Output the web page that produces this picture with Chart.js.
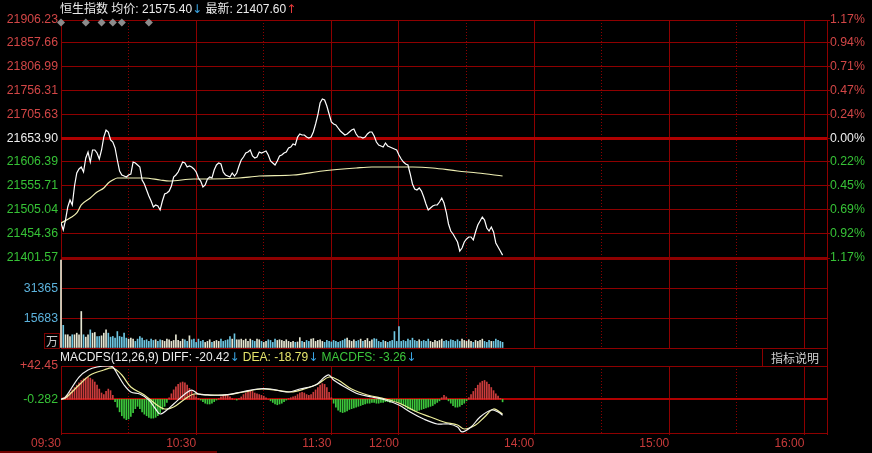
<!DOCTYPE html>
<html><head><meta charset="utf-8">
<script src="https://cdn.jsdelivr.net/npm/chart.js@4.4.0/dist/chart.umd.min.js"></script>
<style>
html,body{margin:0;padding:0;background:#000;width:872px;height:453px;overflow:hidden;}
body{position:relative;font-family:"Liberation Sans","Noto Sans CJK SC",sans-serif;}
canvas{position:absolute;left:0;}
.txt{position:absolute;font-size:12px;white-space:nowrap;line-height:14px;z-index:5;}
.ar{font-family:"DejaVu Sans";font-size:12px;}
</style></head><body>
<canvas id="cPrice" width="872" height="268" style="top:0px"></canvas>
<canvas id="cVol" width="872" height="100" style="top:250px"></canvas>
<canvas id="cMacd" width="872" height="103" style="top:350px"></canvas>
<div id="hdr" class="txt" style="left:60px;top:2px;color:#ececec"></div>
<div id="macdHdr" class="txt" style="left:60px;top:350px"></div>
<div class="txt" style="left:44px;top:333px;width:14px;height:14px;border:1px solid #7a0000;color:#c8c8c8;text-align:center;font-family:'Noto Sans CJK SC';font-size:12px;line-height:14px;">万</div>
<div class="txt" style="left:762px;top:348px;width:64px;height:17px;border:1px solid #8c0000;color:#d0d0d0;text-align:center;font-family:'Noto Sans CJK SC';font-size:12px;line-height:17px;">指标说明</div>
<div style="position:absolute;left:0;top:451px;width:217px;height:2px;background:#700000"></div>
<script>
// ---------- DATA ----------
const indexName = '恒生指数';
const prevClose = 21653.90;
const totalMinutes = 340;               // 09:30-12:00 + 13:00-16:10
const timeTickMinutes = [0, 60, 120, 150, 210, 270, 330];
const timeTickLabels = ['09:30', '10:30', '11:30', '12:00', '14:00', '15:00', '16:00'];
const dottedMinutes = [30, 90, 180, 240, 300];

const priceTicks = [21906.23, 21857.66, 21806.99, 21756.31, 21705.63, 21653.90, 21606.39, 21555.71, 21505.04, 21454.36, 21401.57];
const pctLabels = ['1.17%', '0.94%', '0.71%', '0.47%', '0.24%', '0.00%', '0.22%', '0.45%', '0.69%', '0.92%', '1.17%'];

const priceValues = [
21475.8,21460.9,21482.1,21509.7,21524.6,21514.0,21554.2,21581.8,21590.3,21594.5,
21583.9,21613.6,21626.3,21605.1,21630.6,21630.6,21624.2,21611.5,21630.6,21658.1,
21673.0,21668.7,21651.8,21647.5,21634.8,21609.4,21586.0,21577.6,21575.4,21573.3,
21577.6,21579.7,21605.1,21603.0,21598.8,21594.5,21567.0,21558.5,21545.8,21533.0,
21522.4,21509.7,21514.0,21511.8,21503.4,21522.4,21537.3,21539.4,21543.6,21554.2,
21573.3,21577.6,21583.9,21594.5,21605.1,21603.0,21594.5,21596.6,21594.5,21590.3,
21583.9,21571.2,21564.8,21552.1,21556.4,21569.1,21573.3,21571.2,21588.2,21598.8,
21603.0,21600.9,21583.9,21577.6,21575.4,21573.3,21581.8,21575.4,21581.8,21596.6,
21609.4,21615.7,21624.2,21626.3,21630.6,21617.9,21613.6,21615.7,21626.3,21624.2,
21626.3,21628.5,21620.0,21607.3,21603.0,21598.8,21607.3,21617.9,21620.0,21624.2,
21626.3,21634.8,21636.9,21643.3,21641.2,21658.1,21664.5,21662.4,21662.4,21658.1,
21656.0,21658.1,21668.7,21685.7,21704.8,21730.2,21738.7,21736.6,21723.9,21706.9,
21689.9,21685.7,21683.6,21677.2,21670.9,21666.6,21662.4,21664.5,21668.7,21673.0,
21675.1,21664.5,21658.1,21658.1,21656.0,21658.1,21664.5,21668.7,21668.7,21660.3,
21647.5,21641.2,21639.1,21636.9,21645.4,21639.1,21636.9,21634.8,21632.7,21630.6,
21620.0,21611.5,21605.1,21600.9,21598.8,21579.7,21558.5,21547.9,21545.8,21550.0,
21543.6,21530.9,21516.1,21503.4,21507.6,21511.8,21514.0,21514.0,21520.3,21528.8,
21518.2,21499.1,21473.7,21458.8,21452.5,21444.0,21435.5,21416.4,21422.8,21435.5,
21441.9,21446.1,21446.1,21439.7,21456.7,21471.5,21480.0,21488.5,21482.1,21465.2,
21458.8,21467.3,21456.7,21433.4,21424.9,21416.4,21407.6];

const avgMinutes = [0, 4, 7, 9, 13, 16, 19, 21, 23, 25, 29, 37, 44, 48, 59, 66, 79, 88, 103, 116, 131, 138, 149, 156, 165, 176, 185, 196];
const avgValues = [21475.8, 21486.4, 21497.0, 21514.0, 21528.8, 21541.5, 21550.0, 21560.6, 21567.0, 21571.2, 21571.2, 21571.2, 21567.0, 21564.8, 21569.1, 21569.1, 21571.2, 21575.4, 21577.6, 21586.0, 21592.4, 21594.5, 21594.5, 21594.5, 21592.4, 21586.0, 21581.8, 21575.40];

const markerMinutes = [0, 11, 18, 23, 27, 39];
const markerLevel = 21901;

const volTicks = [0, 15683, 31365, 47048];
const volValues = [
46500,12000,7000,7000,6100,7000,7000,7850,7000,19300,
7000,5750,7000,9600,7850,8200,6100,6100,6450,7850,
9600,7850,5750,6100,5230,8700,6100,5750,7850,5230,
4700,5230,4700,3500,4700,6100,5230,4000,4360,3500,
4700,4000,4360,3500,4360,4000,3500,4700,4360,3500,
4000,6970,4000,3500,4700,4360,3500,6450,4360,4700,
2960,4700,3500,4000,2960,3500,4360,2960,3500,4000,
3500,4700,3500,4000,4360,6100,4700,7500,4360,4360,
4700,4000,4700,3500,4700,4000,3500,4700,4360,3500,
2960,3500,4360,4000,2960,4700,4000,4360,4000,3500,
4360,3500,3000,3500,3000,3200,5500,3500,3000,4000,
3500,4700,5000,3500,4000,4360,3500,3000,4000,3500,
3200,4000,3500,3000,3500,4000,4700,5200,4000,3500,
4360,3500,4000,4700,3500,4000,5000,3500,4360,5000,
4700,3500,3000,4000,3500,3000,3500,4000,8700,3500,
11300,3500,4000,3500,4700,4000,5200,4000,3500,4360,
3500,4000,3500,4700,3500,3000,4000,3500,4000,4700,
3500,4000,3500,4360,4000,3500,4360,3500,4700,4000,
3500,4360,3500,3000,4000,3500,4000,4700,3500,3000,
4000,3500,3500,4700,4000,3500,3000];

const macdTicks = [-43.014, -0.282, 42.45];
const macdTickLabels = ['', '-0.282', '+42.45'];
const histValues = [
0.5,2,4,6,9,12,15,18,21,24,
26,27,28,27,25,22,18,13,8,6,
10,13,11,5,-3,-10,-16,-21,-24,-26,
-25,-22,-17,-12,-9,-12,-16,-19,-21,-23,
-24,-24,-23,-21,-17,-13,-9,-4,2,7,
12,16,19,21,22,21,18,14,10,6,
3,1,-1,-3,-5,-6,-6,-5,-3,-1,
1,3,5,6,5,3,1,0,-1,1,
3,6,8,10,11,10,8,7,6,5,
4,2,0,-2,-4,-6,-7,-6,-5,-3,
-1,1,2,3,4,6,8,9,8,6,
5,6,9,12,15,18,20,19,15,9,
2,-5,-10,-14,-16,-17,-16,-15,-13,-12,
-11,-10,-9,-8,-7,-6,-5,-5,-4,-4,
-5,-5,-4,-4,-3,-3,-4,-3,-2,-3,
-4,-6,-8,-10,-12,-13,-14,-15,-15,-14,
-13,-12,-11,-10,-9,-8,-6,-4,-2,2,
5,3,-2,-5,-8,-10,-10,-9,-7,-5,
-2,2,6,10,14,18,21,23,24,22,
19,15,11,7,4,1,-3.26];

const diffMinutes = [0,2,8,12,16,21,23,25,28,31,35,39,42,44,47,50,55,58,61,65,73,80,87,93,101,106,113,117,119,121,126,132,138,144,150,155,161,167,172,176,178,182,186,191,194,196];
const diffValues = [0,2.9,28.4,37.3,41.2,42.45,41.2,32.2,18.2,9.3,6.7,-0.9,-12.4,-18.8,-13.7,-6.0,6.7,11.8,6.7,5.5,5.5,9.3,13.1,13.1,9.3,13.1,18.2,28.4,31.0,24.6,15.7,6.7,2.9,-0.9,-7.3,-16.2,-25.2,-31.5,-31.5,-35.4,-41.7,-35.4,-22.6,-13.7,-16.2,-20.42];
const deaMinutes = [0,2,8,13,19,23,27,31,37,42,46,50,55,59,65,73,81,89,95,102,108,114,119,123,129,136,144,151,158,164,170,176,179,184,188,192,196];
const deaValues = [0,1.6,18.2,31.0,37.3,39.9,31.0,15.7,5.5,-6.0,-12.4,-9.8,0.4,6.7,5.5,5.5,9.3,13.1,11.8,9.3,13.1,19.5,28.4,24.6,13.1,5.5,0.4,-6.0,-16.2,-22.6,-29.0,-32.8,-37.9,-32.8,-22.6,-12.4,-18.79];

// ---------- STYLE ----------
const FONT = 'Liberation Sans';
const gridColor = '#8e0000';
const thickGrid = '#b00000';
const upColor = '#d24646', downColor = '#36c236', flatColor = '#eeeeee';
const timeColor = '#c83a3a';
const volLabelColor = '#5cb2dc';
const arrowBlue = '#3aa6e6', arrowRed = '#e83a3a';

Chart.defaults.font.family = FONT;
Chart.defaults.font.size = 12;

// headers (text built from the data)
const lastPrice = priceValues[priceValues.length - 1];
const lastAvg = avgValues[avgValues.length - 1];
const arrow = (ch, col) => '<span class="ar" style="color:' + col + '">' + ch + '</span>';
document.getElementById('hdr').innerHTML =
  indexName + ' 均价: ' + lastAvg.toFixed(2) + arrow('↓', arrowBlue) + ' 最新: ' +
  lastPrice.toFixed(2) + arrow('↑', arrowRed);
const dl = v => v.toFixed(2);
document.getElementById('macdHdr').innerHTML =
  '<span style="color:#ececec">MACDFS(12,26,9) DIFF: ' + dl(diffValues[diffValues.length-1]) + '</span>' + arrow('↓', arrowBlue) + ' ' +
  '<span style="color:#e4e46a">DEA: ' + dl(deaValues[deaValues.length-1]) + '</span>' + arrow('↓', arrowBlue) + ' ' +
  '<span style="color:#3cc83c">MACDFS: ' + dl(histValues[histValues.length-1]) + '</span>' + arrow('↓', arrowBlue);

const solidTicks = timeTickMinutes.concat([totalMinutes]);

function xAxes(showLabels) {
  return {
    x: {
      type: 'linear', min: 0, max: totalMinutes, offset: false, position: 'bottom',
      afterBuildTicks: s => { s.ticks = solidTicks.map(v => ({ value: v })); },
      grid: { offset: false, color: gridColor, lineWidth: 1, drawTicks: showLabels, tickLength: 2, tickColor: gridColor },
      border: { display: false },
      ticks: {
        display: showLabels, autoSkip: false, maxRotation: 0, minRotation: 0, align: 'end', padding: 1,
        color: timeColor, font: { family: FONT, size: 12 },
        callback: v => { const i = timeTickMinutes.indexOf(v); return i >= 0 ? timeTickLabels[i] : ''; }
      },
      afterFit: s => { s.height = showLabels ? 20 : 0; s.paddingLeft = 0; s.paddingRight = 0; }
    },
    x2: {
      type: 'linear', min: 0, max: totalMinutes, offset: false, position: 'bottom',
      afterBuildTicks: s => { s.ticks = dottedMinutes.map(v => ({ value: v })); },
      grid: { offset: false, color: gridColor, lineWidth: 1, drawTicks: false },
      border: { display: false, dash: [1, 2] },
      ticks: { display: false },
      afterFit: s => { s.height = 0; }
    }
  };
}
const commonPlugins = { legend: { display: false }, tooltip: { enabled: false } };
const priceAsc = priceTicks.slice().sort((a, b) => a - b);
const pMin = priceAsc[0], pMax = priceAsc[priceAsc.length - 1];
const priceTickColor = v => v > prevClose + 1e-6 ? upColor : (Math.abs(v - prevClose) < 1e-6 ? flatColor : downColor);

// ---------- PRICE PANEL ----------
new Chart(document.getElementById('cPrice'), {
  type: 'line',
  data: {
    datasets: [
      { data: priceValues.map((v, i) => ({ x: i, y: v })), borderColor: '#ffffff', borderWidth: 1.2, pointRadius: 0, tension: 0, xAxisID: 'x', yAxisID: 'y' },
      { data: avgMinutes.map((m, i) => ({ x: m, y: avgValues[i] })), borderColor: '#f0f0b4', borderWidth: 1.2, pointRadius: 0, cubicInterpolationMode: 'monotone', xAxisID: 'x', yAxisID: 'y' },
      { data: markerMinutes.map(m => ({ x: m, y: markerLevel })), showLine: false, pointStyle: 'rectRot', pointRadius: 4, pointBackgroundColor: '#8c8c8c', pointBorderWidth: 0, clip: false, xAxisID: 'x', yAxisID: 'y' }
    ]
  },
  options: {
    responsive: false, animation: false, events: [],
    layout: { padding: { top: 20, bottom: 10, left: 0, right: 0 } },
    plugins: commonPlugins,
    scales: Object.assign(xAxes(false), {
      y: {
        type: 'linear', position: 'left', min: pMin, max: pMax,
        afterBuildTicks: s => { s.ticks = priceAsc.map(v => ({ value: v })); },
        grid: {
          color: c => (c.tick && Math.abs(c.tick.value - prevClose) < 1e-6) ? thickGrid : gridColor,
          lineWidth: c => !c.tick ? 1 : (Math.abs(c.tick.value - prevClose) < 1e-6 ? 3 : (c.tick.value === pMin ? 2 : 1)),
          drawTicks: false
        },
        border: { display: false },
        ticks: { padding: 3, color: c => priceTickColor(c.tick.value), font: { family: FONT, size: 12.3 }, callback: v => v.toFixed(2) },
        afterFit: s => { s.width = 61; s.paddingTop = 0; s.paddingBottom = 0; }
      },
      yr: {
        type: 'linear', position: 'right', min: pMin, max: pMax,
        afterBuildTicks: s => { s.ticks = priceAsc.map(v => ({ value: v })); },
        grid: { drawOnChartArea: false, drawTicks: true, tickLength: 3, tickColor: gridColor },
        border: { display: false },
        ticks: { padding: 0, color: c => priceTickColor(c.tick.value), font: { family: FONT, size: 12.3 }, callback: v => pctLabels[priceTicks.indexOf(v)] },
        afterFit: s => { s.width = 45; s.paddingTop = 0; s.paddingBottom = 0; }
      }
    })
  }
});

// ---------- VOLUME PANEL ----------
const volColors = volValues.map((v, i) => (i === 0 || priceValues[i] >= priceValues[i - 1]) ? '#e6e6d2' : '#6ec6e2');
const volMax = volTicks[volTicks.length - 1];
new Chart(document.getElementById('cVol'), {
  type: 'bar',
  data: { datasets: [{ data: volValues.map((v, i) => ({ x: i, y: v })), backgroundColor: volColors, barThickness: 1, borderWidth: 0, clip: false, xAxisID: 'x', yAxisID: 'y' }] },
  options: {
    responsive: false, animation: false, events: [],
    layout: { padding: { top: 9, bottom: 2, left: 0, right: 45 } },
    plugins: commonPlugins,
    scales: Object.assign(xAxes(false), {
      y: {
        type: 'linear', position: 'left', min: 0, max: volMax,
        afterBuildTicks: s => { s.ticks = volTicks.map(v => ({ value: v })); },
        grid: { color: gridColor, lineWidth: 1, drawTicks: false },
        border: { display: false },
        ticks: { padding: 3, color: volLabelColor, font: { family: FONT, size: 12.3 }, callback: v => (v === 0 || v === volMax) ? '' : String(v) },
        afterFit: s => { s.width = 61; s.paddingTop = 0; s.paddingBottom = 0; }
      }
    })
  }
});

// ---------- MACD PANEL ----------
new Chart(document.getElementById('cMacd'), {
  type: 'bar',
  data: {
    datasets: [
      { type: 'line', data: diffMinutes.map((m, i) => ({ x: m, y: diffValues[i] })), borderColor: '#f4f4f4', borderWidth: 1.2, pointRadius: 0, tension: 0.35, order: 1, xAxisID: 'x', yAxisID: 'y' },
      { type: 'line', data: deaMinutes.map((m, i) => ({ x: m, y: deaValues[i] })), borderColor: '#eeee9a', borderWidth: 1.2, pointRadius: 0, tension: 0.35, order: 2, xAxisID: 'x', yAxisID: 'y' },
      { type: 'bar', data: histValues.map((v, i) => ({ x: i, y: v })), backgroundColor: histValues.map(v => v >= 0 ? '#cc3c3c' : '#3cc83c'), barThickness: 1, borderWidth: 0, order: 3, xAxisID: 'x', yAxisID: 'y' }
    ]
  },
  options: {
    responsive: false, animation: false, events: [],
    layout: { padding: { top: 16, bottom: 0, left: 0, right: 45 } },
    plugins: commonPlugins,
    scales: Object.assign(xAxes(true), {
      y: {
        type: 'linear', position: 'left', min: macdTicks[0], max: macdTicks[macdTicks.length - 1],
        afterBuildTicks: s => { s.ticks = macdTicks.map(v => ({ value: v })); },
        grid: { color: c => (c.tick && c.tick.value === macdTicks[1]) ? thickGrid : gridColor, lineWidth: c => (c.tick && c.tick.value === macdTicks[1]) ? 2 : 1, drawTicks: false },
        border: { display: false },
        ticks: { padding: 3, font: { family: FONT, size: 12.3 }, color: c => c.tick.value > 0 ? upColor : downColor, callback: v => macdTickLabels[macdTicks.indexOf(v)] },
        afterFit: s => { s.width = 61; s.paddingTop = 0; s.paddingBottom = 0; }
      }
    })
  }
});
</script>
</body></html>
